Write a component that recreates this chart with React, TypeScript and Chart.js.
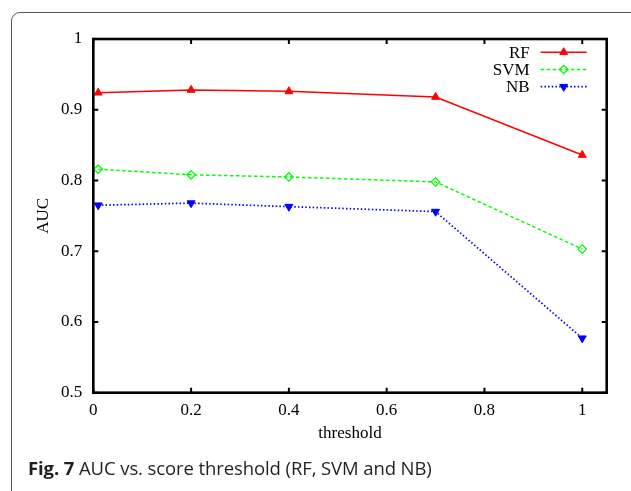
import React, { useEffect, useRef } from "react";
import { Chart, registerables } from "chart.js";
import { drawPoint } from "chart.js/helpers";

Chart.register(...registerables);

// Score thresholds and AUC per classifier
const thresholds = [0.01, 0.2, 0.4, 0.7, 1.0];
const rfAuc = [0.924, 0.928, 0.926, 0.918, 0.836];
const svmAuc = [0.816, 0.808, 0.805, 0.798, 0.703];
const nbAuc = [0.765, 0.768, 0.763, 0.756, 0.577];

const seriesNames = ["RF", "SVM", "NB"];
const xTicks = [0, 0.2, 0.4, 0.6, 0.8, 1];
const yTicks = [0.5, 0.6, 0.7, 0.8, 0.9, 1];
const xTickLabels = ["0", "0.2", "0.4", "0.6", "0.8", "1"];
const yTickLabels = ["0.5", "0.6", "0.7", "0.8", "0.9", "1"];

const SERIF = "'Liberation Serif', 'Times New Roman', serif";

// Heavy frame around the plot with inward ticks on all four sides
const framePlugin = {
  id: "frame",
  afterDatasetsDraw(chart: any) {
    const { ctx, chartArea } = chart;
    const { left, right, top, bottom } = chartArea;
    const xs = chart.scales.x;
    const ys = chart.scales.y;
    const tick = 5;
    ctx.save();
    ctx.strokeStyle = "#000";
    ctx.lineWidth = 2;
    ctx.beginPath();
    xTicks.forEach((v) => {
      const px = xs.getPixelForValue(v);
      ctx.moveTo(px, bottom);
      ctx.lineTo(px, bottom - tick);
      ctx.moveTo(px, top);
      ctx.lineTo(px, top + tick);
    });
    yTicks.forEach((v) => {
      const py = ys.getPixelForValue(v);
      ctx.moveTo(left, py);
      ctx.lineTo(left + tick, py);
      ctx.moveTo(right, py);
      ctx.lineTo(right - tick, py);
    });
    ctx.stroke();
    ctx.lineWidth = 2.6;
    ctx.strokeRect(left, top, right - left, bottom - top);
    ctx.restore();
  },
};

// Key in the upper right: name, then a sample of the line with its marker
const keyPlugin = {
  id: "key",
  afterDraw(chart: any) {
    const { ctx, chartArea } = chart;
    const textRight = chartArea.right - 77;
    const lineStart = chartArea.right - 66;
    const lineEnd = chartArea.right - 20;
    const rowTop = chartArea.top + 13.3;
    const rowGap = 17.2;
    ctx.save();
    chart.data.datasets.forEach((ds: any, i: number) => {
      const y = rowTop + i * rowGap;
      ctx.font = `17px ${SERIF}`;
      ctx.fillStyle = "#000";
      ctx.textAlign = "right";
      ctx.textBaseline = "middle";
      ctx.fillText(ds.label, textRight, y + 1);
      ctx.strokeStyle = ds.borderColor;
      ctx.lineWidth = ds.borderWidth;
      ctx.setLineDash(ds.borderDash || []);
      ctx.beginPath();
      ctx.moveTo(lineStart, y);
      ctx.lineTo(lineEnd, y);
      ctx.stroke();
      ctx.setLineDash([]);
      ctx.fillStyle = ds.pointBackgroundColor;
      ctx.strokeStyle = ds.pointBorderColor;
      ctx.lineWidth = ds.pointBorderWidth;
      drawPoint(ctx, {
        pointStyle: ds.pointStyle,
        radius: ds.pointRadius,
        rotation: ds.pointRotation || 0,
        borderWidth: ds.pointBorderWidth,
      }, (lineStart + lineEnd) / 2, y);
    });
    ctx.restore();
  },
};

function toPoints(values: number[]) {
  return values.map((v, i) => ({ x: thresholds[i], y: v }));
}

export default function App() {
  const canvasRef = useRef<HTMLCanvasElement | null>(null);

  useEffect(() => {
    document.body.style.margin = "0";
    const canvas = canvasRef.current;
    if (!canvas) return;
    const chart = new Chart(canvas, {
      type: "line",
      data: {
        datasets: [
          {
            label: seriesNames[0],
            data: toPoints(rfAuc),
            borderColor: "#ff0000",
            borderWidth: 1.5,
            pointStyle: "triangle",
            pointRadius: 4.6,
            pointBackgroundColor: "#ff0000",
            pointBorderColor: "#ff0000",
            pointBorderWidth: 1,
          },
          {
            label: seriesNames[1],
            data: toPoints(svmAuc),
            borderColor: "#00ff00",
            borderWidth: 1.5,
            borderDash: [3.5, 2.5],
            pointStyle: "rectRot",
            pointRadius: 4.2,
            pointBackgroundColor: "rgba(255,255,255,0)",
            pointBorderColor: "#00ff00",
            pointBorderWidth: 1.3,
          },
          {
            label: seriesNames[2],
            data: toPoints(nbAuc),
            borderColor: "#0000ff",
            borderWidth: 1.7,
            borderDash: [1.5, 2.2],
            pointStyle: "triangle",
            pointRotation: 180,
            pointRadius: 4.6,
            pointBackgroundColor: "#0000ff",
            pointBorderColor: "#0000ff",
            pointBorderWidth: 1,
          },
        ],
      } as any,
      options: {
        animation: false,
        responsive: false,
        maintainAspectRatio: false,
        layout: { padding: { left: 30.5, top: 39, right: 24.3, bottom: 44 } },
        plugins: {
          legend: { display: false },
          tooltip: { enabled: false },
        },
        scales: {
          x: {
            type: "linear",
            min: 0,
            max: 1.05,
            grid: { display: false, drawTicks: false },
            border: { display: false },
            afterBuildTicks: (s: any) => {
              s.ticks = xTicks.map((v) => ({ value: v }));
            },
            afterFit: (s: any) => {
              s.height = 54.3;
            },
            ticks: {
              autoSkip: false,
              maxRotation: 0,
              padding: 7.5,
              color: "#000",
              font: { family: SERIF, size: 17 },
              callback: (v: any) => xTickLabels[xTicks.indexOf(Number(v))] ?? "",
            },
            title: {
              display: true,
              text: "threshold",
              color: "#000",
              font: { family: SERIF, size: 17, lineHeight: 1.2 },
              padding: { top: 4, bottom: 3 },
            },
          },
          y: {
            type: "linear",
            min: 0.5,
            max: 1,
            grid: { display: false, drawTicks: false },
            border: { display: false },
            afterBuildTicks: (s: any) => {
              s.ticks = yTicks.map((v) => ({ value: v }));
            },
            afterFit: (s: any) => {
              s.width = 62.8;
            },
            ticks: {
              autoSkip: false,
              padding: 11,
              color: "#000",
              font: { family: SERIF, size: 17 },
              callback: (v: any) => yTickLabels[yTicks.indexOf(Number(v))] ?? "",
            },
            title: {
              display: true,
              text: "AUC",
              color: "#000",
              font: { family: SERIF, size: 17, lineHeight: 1.2 },
              padding: { top: 3, bottom: 4 },
            },
          },
        },
      } as any,
      plugins: [framePlugin, keyPlugin],
    });
    return () => chart.destroy();
  }, []);

  return (
    <div
      style={{
        position: "relative",
        width: 631,
        height: 491,
        overflow: "hidden",
        background: "#fff",
      }}
    >
      <div
        style={{
          position: "absolute",
          left: 11,
          top: 12,
          width: 660,
          height: 520,
          border: "1px solid #555",
          borderRadius: 9,
          boxSizing: "border-box",
        }}
      />
      <canvas
        ref={canvasRef}
        width={631}
        height={491}
        style={{ position: "absolute", left: 0, top: 0, width: 631, height: 491 }}
      />
      <div
        style={{
          position: "absolute",
          left: 28,
          top: 456,
          whiteSpace: "nowrap",
          fontFamily: "'Open Sans', 'Noto Sans', sans-serif",
          fontSize: 18.5,
          color: "#231f20",
          letterSpacing: -0.1,
          lineHeight: "24px",
        }}
      >
        <b>Fig. 7</b> AUC vs. score threshold (RF, SVM and NB)
      </div>
    </div>
  );
}
